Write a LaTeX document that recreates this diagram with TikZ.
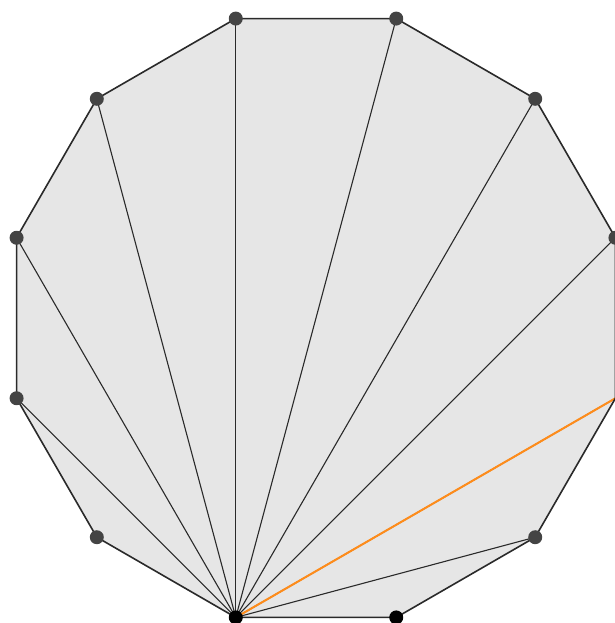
\documentclass[tikz,border=0pt]{standalone}
\usetikzlibrary{calc}
\definecolor{fillgray}{HTML}{E6E6E6}
\definecolor{dotgray}{HTML}{444444}
\definecolor{edgegray}{HTML}{2A2A2A}
\definecolor{orangeln}{HTML}{FF8C1A}
\tikzset{
  vdot/.style={circle,fill=dotgray,inner sep=0pt,minimum size=14pt},
  vdotb/.style={circle,fill=black,inner sep=0pt,minimum size=14pt},
  edgeln/.style={draw=edgegray,line width=1.6pt},
  diagln/.style={draw=edgegray,line width=1.1pt},
  hiln/.style={draw=orangeln,line width=2pt}
}
\begin{document}
\begin{tikzpicture}[x=1pt,y=-1pt]
\useasboundingbox (0,0) rectangle (614,623);
% vertex coordinates: center (316,318), R=310, angles 15+30k (math, y up)
\foreach \k in {0,...,11}{
  \pgfmathsetmacro{\ang}{15+30*\k}
  \coordinate (p\k) at ({316+310*cos(\ang)},{318-310*sin(\ang)});
}
\fill[fillgray] (p0) \foreach \k in {1,...,11}{ -- (p\k)} -- cycle;
% diagonals from p8 (bottom-left, 255 deg)
\foreach \k in {10,11,0,1,2,3,4,5,6}{
  \draw[diagln] (p8) -- (p\k);
}
\draw[hiln] (p8) -- (p11);
\draw[edgeln] (p0) \foreach \k in {1,...,11}{ -- (p\k)} -- cycle;
\foreach \k in {0,1,2,3,4,5,6,7,10}{
  \node[vdot] (v\k) at (p\k) {};
}
\node[vdotb] (v8) at (p8) {};
\node[vdotb] (v9) at (p9) {};
\end{tikzpicture}
\end{document}
